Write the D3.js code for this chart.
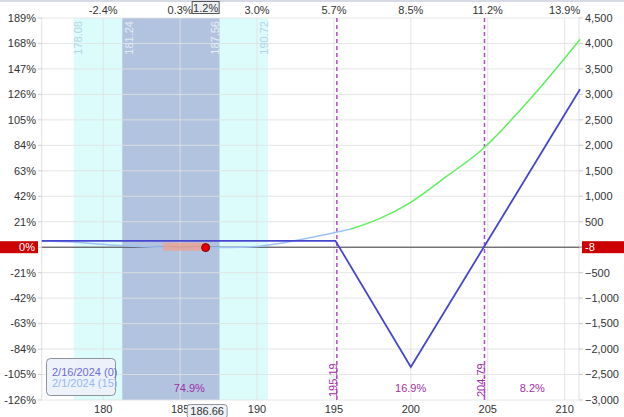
<!DOCTYPE html>
<html><head><meta charset="utf-8">
<script src="https://cdn.jsdelivr.net/npm/d3@7"></script>
<style>
body{margin:0;background:#fff;}
svg{display:block;font-family:"Liberation Sans",Arial,sans-serif;}
</style></head>
<body><svg id="c" width="624" height="417"></svg>
<script>
// ---- data ----
const priceTicks = [180, 185, 190, 195, 200, 205, 210];
const topTickLabels = ["-2.4%", "0.3%", "3.0%", "5.7%", "8.5%", "11.2%", "13.9%"];
const leftTicks = [-126, -105, -84, -63, -42, -21, 0, 21, 42, 63, 84, 105, 126, 147, 168, 189];
const rightTicks = [-3000, -2500, -2000, -1500, -1000, -500, 0, 500, 1000, 1500, 2000, 2500, 3000, 3500, 4000, 4500];
const outerBand = [178.08, 190.72];
const innerBand = [181.24, 187.56];
const breakevens = [195.19, 204.79];
const zoneBounds = [176, 195.19, 204.79, 211];
const zoneProbs = ["74.9%", "16.9%", "8.2%"];
const expPrice = [176, 195.1, 200, 211];
const expPnl = [125, 125, -2350, 3100];
const t0BluePrice = [176, 178, 180.4, 183, 185, 186.66, 189.5, 192, 195, 196.1];
const t0BluePnl = [128, 100, 45, 5, -14, -8, 4, 100, 285, 357];
const t0GreenPrice = [196.1, 198, 200, 202.3, 204.6, 207.7, 211];
const t0GreenPnl = [357, 567, 882, 1384, 1909, 2890, 4080];
const currentPrice = 186.66, currentPnl = -8, currentPct = "1.2%";
const moveFrom = 183.9;
const legendItems = ["2/16/2024 (0)", "2/1/2024 (15)"];

// ---- layout ----
const svg = d3.select("#c");
const L = 41.7, R = 580, T = 18, B = 400;
const x = d3.scaleLinear().domain([176, 211]).range([L, R]);
const yL = d3.scaleLinear().domain([-126, 189]).range([B, T]);
const yR = d3.scaleLinear().domain([-3000, 4500]).range([B, T]);

svg.append("rect").attr("x",0).attr("y",0).attr("width",624).attr("height",2).attr("fill","#d6dae6");

// bands
svg.append("rect").attr("x",x(outerBand[0])).attr("y",T).attr("width",x(outerBand[1])-x(outerBand[0])).attr("height",B-T).attr("fill","#dcfcfc");
svg.append("rect").attr("x",x(innerBand[0])).attr("y",T).attr("width",x(innerBand[1])-x(innerBand[0])).attr("height",B-T).attr("fill","#b1c3de");

// grid
const g = svg.append("g");
g.selectAll(".hg").data(leftTicks).join("line").attr("x1",L).attr("x2",R).attr("y1",d=>yL(d)).attr("y2",d=>yL(d)).attr("stroke","#e2e2e2").attr("stroke-width",1).attr("opacity",0.85);
g.selectAll(".vg").data(priceTicks).join("line").attr("x1",d=>x(d)).attr("x2",d=>x(d)).attr("y1",T).attr("y2",B).attr("stroke","#e2e2e2").attr("opacity",0.85);
// axis lines
svg.append("line").attr("x1",L).attr("x2",L).attr("y1",T).attr("y2",B).attr("stroke","#e0e0e0");
svg.append("line").attr("x1",R-1).attr("x2",R-1).attr("y1",T).attr("y2",B).attr("stroke","#e0e0e0");

// band labels
const bandLabs = [
  {v: outerBand[0], dx: 4, c: "#b4d4e4"},
  {v: innerBand[0], dx: 7, c: "#e4ebf4"},
  {v: innerBand[1], dx: -4, c: "#e8eef6"},
  {v: outerBand[1], dx: -4, c: "#b4d4e4"}
];
bandLabs.forEach(b => {
  svg.append("text").attr("transform",`translate(${x(b.v)+b.dx},21) rotate(-90)`)
    .attr("text-anchor","end").attr("dy","0.35em").attr("font-size",11).attr("fill",b.c).text(b.v.toFixed(2));
});

// breakevens
breakevens.forEach(v => {
  svg.append("line").attr("x1",x(v)).attr("x2",x(v)).attr("y1",T).attr("y2",B)
    .attr("stroke","#b848c8").attr("stroke-width",1.5).attr("stroke-dasharray","4,3");
  svg.append("text").attr("transform",`translate(${x(v)-3.5},397) rotate(-90)`)
    .attr("text-anchor","start").attr("dy","0.35em").attr("font-size",11).attr("fill","#a030a8").text(v.toFixed(2));
});
zoneProbs.forEach((p,i) => {
  svg.append("text").attr("x",x((zoneBounds[i]+zoneBounds[i+1])/2)).attr("y",392).attr("text-anchor","middle")
    .attr("font-size",11).attr("fill","#a030a8").text(p);
});

// zero line
svg.append("line").attr("x1",L).attr("x2",R+2).attr("y1",yR(0)).attr("y2",yR(0)).attr("stroke","#3c3c3c").attr("stroke-width",1);

// curves
const lineR = d3.line().x(d=>x(d[0])).y(d=>yR(d[1]));
const lineC = d3.line().x(d=>x(d[0])).y(d=>yR(d[1])).curve(d3.curveMonotoneX);
svg.append("path").datum(t0BluePrice.map((p,i)=>[p,t0BluePnl[i]])).attr("d",lineC).attr("fill","none").attr("stroke","#9fc2f6").attr("stroke-width",1.5);
svg.append("path").datum(t0GreenPrice.map((p,i)=>[p,t0GreenPnl[i]])).attr("d",lineC).attr("fill","none").attr("stroke","#5cf05c").attr("stroke-width",1.5);
svg.append("path").datum(expPrice.map((p,i)=>[p,expPnl[i]])).attr("d",lineR).attr("fill","none").attr("stroke","#4646cf").attr("stroke-width",1.8);

// move rect and dot
svg.append("rect").attr("x",x(moveFrom)).attr("y",yR(0)-4.5).attr("width",x(currentPrice)-x(moveFrom)).attr("height",8).attr("fill","rgba(240,160,140,0.75)");
svg.append("circle").attr("cx",x(currentPrice)).attr("cy",yR(currentPnl)).attr("r",4).attr("fill","#e80000").attr("stroke","#700").attr("stroke-width",1);

// left axis
const fmtPct = d => d + "%";
svg.selectAll(".lt").data(leftTicks.filter(d=>d!==0)).join("text").attr("x",36).attr("y",d=>yL(d)).attr("dy","0.35em")
  .attr("text-anchor","end").attr("font-size",11).attr("fill","#333").text(fmtPct);
svg.selectAll(".ltk").data(leftTicks).join("line").attr("x1",38).attr("x2",L).attr("y1",d=>yL(d)).attr("y2",d=>yL(d)).attr("stroke","#ccc");
svg.append("rect").attr("x",0).attr("y",yL(0)-6).attr("width",38).attr("height",12).attr("fill","#cc0000");
svg.append("text").attr("x",35).attr("y",yL(0)).attr("dy","0.35em").attr("text-anchor","end").attr("font-size",11).attr("fill","#fff").text("0%");

// right axis
const fmtR = d3.format(",");
svg.selectAll(".rt").data(rightTicks.filter(d=>d!==0)).join("text").attr("x",585).attr("y",d=>yR(d)).attr("dy","0.35em")
  .attr("text-anchor","start").attr("font-size",11).attr("fill","#333").text(d=>fmtR(d));
svg.selectAll(".rtk").data(rightTicks).join("line").attr("x1",R-1).attr("x2",R+3).attr("y1",d=>yR(d)).attr("y2",d=>yR(d)).attr("stroke","#ccc");
svg.append("rect").attr("x",582).attr("y",yR(0)-6).attr("width",42).attr("height",12).attr("fill","#cc0000");
svg.append("text").attr("x",585).attr("y",yR(0)).attr("dy","0.35em").attr("text-anchor","start").attr("font-size",11).attr("fill","#fff").text(String(currentPnl));

// bottom axis
svg.selectAll(".bt").data(priceTicks).join("text").attr("x",d=>x(d)).attr("y",413).attr("text-anchor","middle")
  .attr("font-size",11).attr("fill","#333").text(d=>d);
// top axis
svg.selectAll(".tt").data(priceTicks).join("text").attr("x",d=>x(d)).attr("y",14).attr("text-anchor","middle")
  .attr("font-size",11).attr("fill","#333").text((d,i)=>topTickLabels[i]);

// current price markers
const cx = x(currentPrice);
svg.append("rect").attr("x",cx-13.5).attr("y",1.5).attr("width",27).attr("height",12).attr("fill","#eef0f4").attr("stroke","#555").attr("stroke-width",1);
svg.append("text").attr("x",cx).attr("y",11.5).attr("text-anchor","middle").attr("font-size",11).attr("fill","#333").text(currentPct);
svg.append("rect").attr("x",cx-18.5).attr("y",404.5).attr("width",40).attr("height",14).attr("rx",3).attr("fill","#eef2f8").attr("stroke","#8e949c");
svg.append("text").attr("x",cx+1.5).attr("y",414.5).attr("text-anchor","middle").attr("font-size",11).attr("fill","#333").text(currentPrice.toFixed(2));

// legend
svg.append("rect").attr("x",46.5).attr("y",358.5).attr("width",69).attr("height",37).attr("rx",4).attr("fill","#edf1fa").attr("fill-opacity",0.95).attr("stroke","#8e949c");
const legCols = ["#6c6cd6", "#94b8f2"];
legendItems.forEach((t,i) => {
  svg.append("text").attr("x",52).attr("y",376+i*11).attr("font-size",11).attr("fill",legCols[i]).text(t);
});
</script></body></html>
